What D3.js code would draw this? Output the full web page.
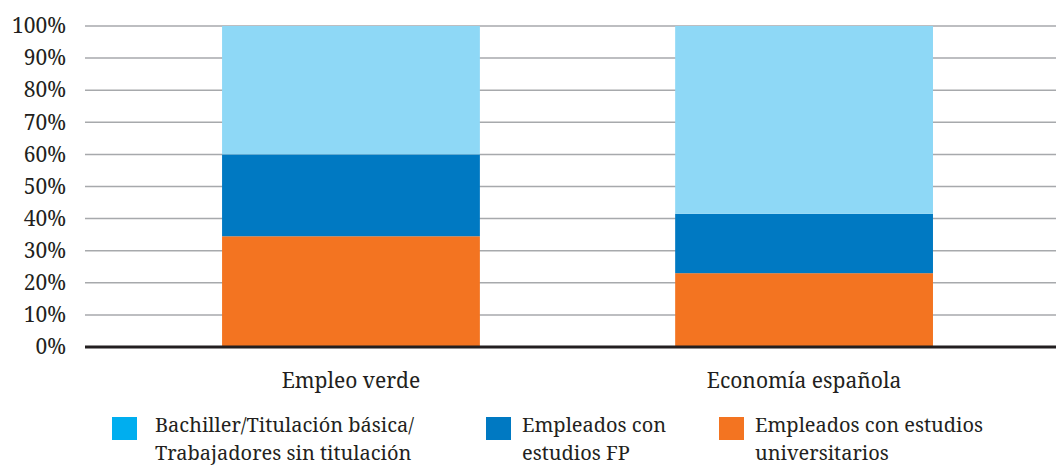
<!DOCTYPE html>
<html>
<head>
<meta charset="utf-8">
<script src="https://cdn.jsdelivr.net/npm/d3@7"></script>
<style>
  body { margin: 0; background: #fff; }
</style>
</head>
<body>
<svg id="chart" width="1056" height="466"></svg>
<script>
// categories and shares (%), bottom to top
var categories = ["Empleo verde", "Economía española"];
var universitarios = [34.5, 23];
var fp = [25.5, 18.5];
var bachiller = [40, 58.5];
var ticks = [0, 10, 20, 30, 40, 50, 60, 70, 80, 90, 100];

var seriesNames = ["universitarios", "fp", "bachiller"];
var colors = { universitarios: "#f37421", fp: "#0079c2", bachiller: "#8ed8f6" };

var legendItems = [
  { lines: ["Bachiller/Titulación básica/", "Trabajadores sin titulación"], color: "#00aeef" },
  { lines: ["Empleados con", "estudios FP"], color: "#0079c2" },
  { lines: ["Empleados con estudios", "universitarios"], color: "#f37421" }
];

var table = categories.map(function(c, i) {
  return { cat: c, universitarios: universitarios[i], fp: fp[i], bachiller: bachiller[i] };
});

var font = "Noto Serif";
var ink = "#231f20";

var svg = d3.select("#chart");
var margin = { top: 26, left: 85, right: 0, bottom: 119 };
var width = 1056 - margin.left - margin.right;
var height = 466 - margin.top - margin.bottom;

var g = svg.append("g").attr("transform", "translate(" + margin.left + "," + margin.top + ")");

var x = d3.scaleBand().domain(categories).range([0, width])
  .paddingInner(0.431).paddingOuter(0.287).align(0.527);
var y = d3.scaleLinear().domain([0, 100]).range([height, 0]);

// gridlines
g.append("g")
  .selectAll("line")
  .data(ticks.filter(function(t) { return t > 0; }))
  .enter()
  .append("line")
  .attr("x1", 0)
  .attr("x2", width)
  .attr("y1", function(d) { return y(d); })
  .attr("y2", function(d) { return y(d); })
  .style("stroke", "#a7a9ac")
  .style("stroke-width", 1.5);

// y axis labels
var yAxis = d3.axisLeft(y).tickValues(ticks).tickSize(0).tickPadding(19)
  .tickFormat(function(d) { return d + "%"; });
g.append("g").call(yAxis)
  .attr("font-family", font)
  .attr("font-size", 21)
  .call(function(a) { a.select(".domain").remove(); })
  .selectAll("text")
  .attr("fill", ink);

// stacked bars
var stack = d3.stack().keys(seriesNames);
g.append("g")
  .selectAll("g")
  .data(stack(table))
  .enter()
  .append("g")
  .attr("fill", function(d) { return colors[d.key]; })
  .selectAll("rect")
  .data(function(d) { return d; })
  .enter()
  .append("rect")
  .attr("x", function(d) { return x(d.data.cat); })
  .attr("width", x.bandwidth())
  .attr("y", function(d) { return y(d[1]); })
  .attr("height", function(d) { return y(d[0]) - y(d[1]); });

// baseline
g.append("line")
  .attr("x1", 0).attr("x2", width)
  .attr("y1", y(0)).attr("y2", y(0))
  .style("stroke", ink)
  .style("stroke-width", 3);

// category labels
g.append("g")
  .selectAll("text")
  .data(categories)
  .enter()
  .append("text")
  .attr("x", function(d) { return x(d) + x.bandwidth() / 2; })
  .attr("y", height + 41)
  .attr("text-anchor", "middle")
  .attr("font-family", font)
  .attr("font-size", 21)
  .attr("fill", ink)
  .text(function(d) { return d; });

// legend
var legendX = [112, 486, 719];
var legend = svg.append("g").selectAll("g")
  .data(legendItems)
  .enter()
  .append("g")
  .attr("transform", function(d, i) { return "translate(" + legendX[i] + ",417)"; });

legend.append("rect")
  .attr("width", 25)
  .attr("height", 23)
  .attr("fill", function(d) { return d.color; });

legend.each(function(d, i) {
  d3.select(this).selectAll("text")
    .data(d.lines)
    .enter()
    .append("text")
    .attr("x", i == 0 ? 43 : 36)
    .attr("y", function(l, j) { return 15 + j * 27.5; })
    .attr("font-family", font)
    .attr("font-size", 20)
    .attr("fill", ink)
    .text(function(l) { return l; });
});
</script>
</body>
</html>
